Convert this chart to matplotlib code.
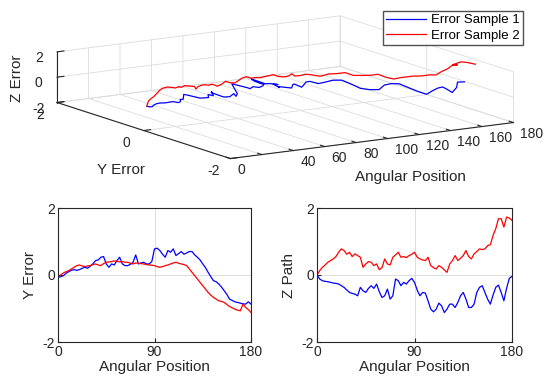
import numpy as np
import matplotlib.pyplot as plt

plt.rcParams['font.family'] = ['Liberation Sans', 'DejaVu Sans']
plt.rcParams['axes.unicode_minus'] = False

# angular position grid (degrees)
angle = np.arange(0, 180.1, 2.5)

# Y error, sample 1 (blue) and sample 2 (red)
y_err_1 = [-0.07, -0.05, -0.02, 0.05, 0.10, 0.14, 0.16, 0.14, 0.16, 0.20, 0.23, 0.20, 0.26,
           0.33, 0.43, 0.45, 0.53, 0.55, 0.33, 0.23, 0.33, 0.30, 0.43, 0.53, 0.33, 0.28,
           0.28, 0.32, 0.38, 0.60, 0.33, 0.36, 0.38, 0.33, 0.33, 0.40, 0.78, 0.80, 0.73,
           0.62, 0.53, 0.73, 0.68, 0.78, 0.58, 0.64, 0.70, 0.62, 0.66, 0.70, 0.70, 0.60,
           0.53, 0.45, 0.33, 0.22, 0.08, -0.05, -0.17, -0.20, -0.27, -0.36, -0.47, -0.58,
           -0.72, -0.76, -0.80, -0.82, -0.84, -0.86, -0.87, -0.80, -0.87]
y_err_2 = [-0.07, 0.00, 0.06, 0.10, 0.13, 0.18, 0.23, 0.28, 0.30, 0.27, 0.25, 0.27, 0.28,
           0.31, 0.33, 0.30, 0.28, 0.34, 0.38, 0.39, 0.40, 0.42, 0.41, 0.39, 0.40, 0.38,
           0.38, 0.35, 0.33, 0.36, 0.35, 0.34, 0.33, 0.31, 0.30, 0.29, 0.28, 0.25, 0.23,
           0.25, 0.28, 0.30, 0.33, 0.36, 0.38, 0.35, 0.33, 0.31, 0.28, 0.18, 0.08, -0.02,
           -0.12, -0.22, -0.32, -0.42, -0.52, -0.60, -0.67, -0.72, -0.77, -0.79, -0.82,
           -0.88, -0.94, -0.98, -1.02, -1.05, -1.07, -0.87, -0.97, -1.03, -1.12]

# Z path, sample 1 (blue) and sample 2 (red)
z_path_1 = [0.00, -0.12, -0.17, -0.19, -0.20, -0.22, -0.24, -0.25, -0.27, -0.32, -0.37, -0.45,
            -0.52, -0.55, -0.57, -0.62, -0.37, -0.47, -0.52, -0.40, -0.32, -0.40, -0.27,
            -0.50, -0.67, -0.62, -0.42, -0.72, -0.62, -0.12, -0.17, -0.32, -0.22, -0.27,
            -0.17, -0.10, -0.22, -0.45, -0.62, -0.52, -0.54, -0.77, -1.02, -1.10, -1.02,
            -0.84, -0.92, -1.12, -1.02, -0.87, -0.87, -0.97, -0.82, -0.62, -0.52, -0.72,
            -0.97, -0.97, -0.87, -0.52, -0.37, -0.32, -0.52, -0.72, -0.87, -0.60, -0.37,
            -0.30, -0.52, -0.77, -0.40, -0.10, -0.04]
z_path_2 = [0.00, 0.13, 0.23, 0.30, 0.38, 0.43, 0.48, 0.55, 0.68, 0.78, 0.73, 0.62, 0.68,
            0.55, 0.63, 0.58, 0.53, 0.23, 0.33, 0.40, 0.38, 0.28, 0.33, 0.16, 0.22, 0.48,
            0.33, 0.30, 0.53, 0.60, 0.68, 0.53, 0.55, 0.52, 0.58, 0.62, 0.68, 0.53, 0.48,
            0.45, 0.43, 0.53, 0.28, 0.22, 0.18, 0.28, 0.23, 0.15, 0.08, 0.33, 0.43, 0.58,
            0.43, 0.50, 0.58, 0.73, 0.55, 0.48, 0.63, 0.70, 0.78, 0.76, 0.78, 0.88, 0.90,
            1.18, 1.38, 1.68, 1.68, 1.43, 1.73, 1.70, 1.63]

labels = ["Error Sample 1", "Error Sample 2"]
colors = ["#0000ff", "#ff0000"]

frame_col = "#262626"
grid_col = "#dcdcdc"

fig = plt.figure(figsize=(5.52, 3.81), dpi=100)

# --- 3D view of both error paths
S = 400
ax3 = fig.add_axes([0.507 - S / 552 / 2, 0.757 - S / 381 / 2, S / 552, S / 381],
                   projection='3d')
ax3.patch.set_alpha(0)
ax3.set_proj_type('ortho')
ax3.view_init(elev=11.7, azim=-122.1)
ax3.set_box_aspect((1, 0.976, 0.155), zoom=1.14)

lines = []
for yy, zz, c, lab in zip([y_err_1, y_err_2], [z_path_1, z_path_2], colors, labels):
    ln, = ax3.plot(angle, yy, zz, color=c, lw=0.9, label=lab)
    lines.append(ln)

ax3.set_xlim(0, 180)
ax3.set_ylim(-2, 2)
ax3.set_zlim(-2, 2)
ax3.set_xticks(np.arange(0, 181, 20))
ax3.set_xticklabels(['0', '', '40', '60', '80', '100', '120', '140', '160', '180'],
                    ha='left')
ax3.set_yticks([-2, 0, 2])
ax3.set_zticks([-2, 0, 2])
for axis in (ax3.xaxis, ax3.yaxis, ax3.zaxis):
    axis.set_pane_color((1, 1, 1, 0))
    axis.pane.set_edgecolor(grid_col)
    axis.line.set_color(frame_col)
    axis.line.set_linewidth(0.8)
    axis._axinfo['grid'].update(color=grid_col, linewidth=0.6)
    axis._axinfo['tick'].update(inward_factor=0.0, outward_factor=0.3)
ax3.tick_params(labelsize=10, colors=frame_col, pad=0)
ax3.tick_params(axis='x', pad=-2)
ax3.tick_params(axis='y', pad=1)
ax3.tick_params(axis='z', pad=-2)

fig.text(0.031, 0.795, "Z Error", rotation=90, ha='center', va='center', fontsize=11,
         color=frame_col)
fig.text(0.22, 0.553, "Y Error", ha='center', va='center', fontsize=11, color=frame_col)
fig.text(0.743, 0.535, "Angular Position", ha='center', va='center', fontsize=11,
         color=frame_col)

fig.legend(handles=lines, loc='upper right', bbox_to_anchor=(0.948, 0.972),
           fontsize=9.5, frameon=True, fancybox=False, edgecolor=frame_col,
           handlelength=3.0, borderpad=0.25, labelspacing=0.25, handletextpad=0.4,
           borderaxespad=0)

# --- 2D projections
ax_y = fig.add_axes([58 / 552, 39 / 381, 193 / 552, 134 / 381])
ax_z = fig.add_axes([317 / 552, 39 / 381, 195 / 552, 134 / 381])

for ax, series, ylab in [(ax_y, [y_err_1, y_err_2], "Y Error"),
                         (ax_z, [z_path_1, z_path_2], "Z Path")]:
    for vals, c in zip(series, colors):
        ax.plot(angle, vals, color=c, lw=0.9)
    ax.set_xlim(0, 180)
    ax.set_ylim(-2, 2)
    ax.set_xticks([0, 90, 180])
    ax.set_yticks([-2, 0, 2])
    ax.grid(True, color=grid_col, linewidth=0.7)
    ax.set_axisbelow(True)
    ax.tick_params(direction='in', length=3, labelsize=10, colors=frame_col, pad=2)
    for sp in ax.spines.values():
        sp.set_color(frame_col)
        sp.set_linewidth(0.8)
    ax.set_xlabel("Angular Position", fontsize=11, color=frame_col, labelpad=1)
    ax.set_ylabel(ylab, fontsize=11, color=frame_col, labelpad=4)

fig.savefig("out.png", dpi=100)
